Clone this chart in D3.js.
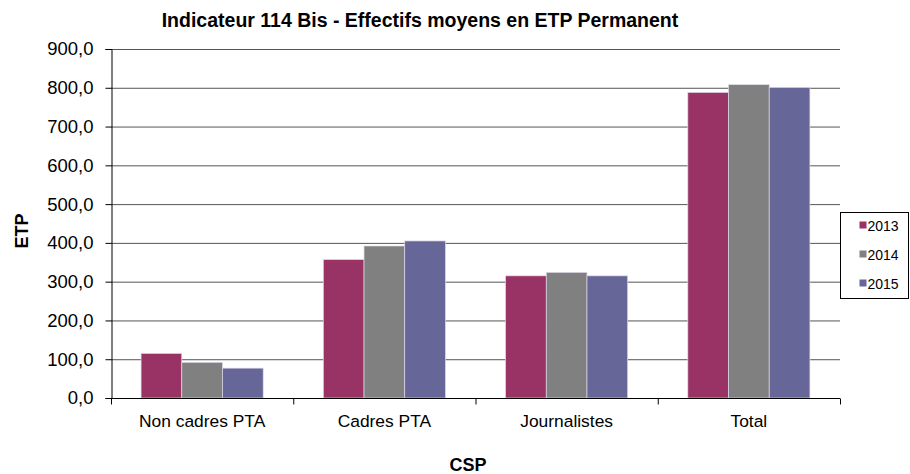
<!DOCTYPE html>
<html>
<head>
<meta charset="utf-8">
<script src="https://cdn.jsdelivr.net/npm/d3@7"></script>
<style>
  body { margin: 0; background: #fff; }
  svg { font-family: "Liberation Sans", Arial, sans-serif; }
</style>
</head>
<body>
<div id="plot"></div>
<script>
// data
const categories = ["Non cadres PTA", "Cadres PTA", "Journalistes", "Total"];
const years = ["2013", "2014", "2015"];
const values2013 = [115, 357, 315, 788];
const values2014 = [92, 392, 324, 808];
const values2015 = [77, 405, 315, 801];
const yTicks = [0, 100, 200, 300, 400, 500, 600, 700, 800, 900];
const colors = ["#993366", "#808080", "#666699"];

const series = [values2013, values2014, values2015];

const width = 910, height = 474;
const margin = { left: 111, right: 70, top: 49, bottom: 76 };

const svg = d3.select("#plot").append("svg")
    .attr("width", width)
    .attr("height", height);

const x = d3.scaleBand()
    .domain(categories)
    .range([margin.left, width - margin.right]);

const xInner = d3.scaleBand()
    .domain(years)
    .range([0, x.bandwidth() * 0.67]);

const y = d3.scaleLinear()
    .domain([0, 900])
    .range([height - margin.bottom, margin.top]);

// gridlines
svg.append("g")
    .selectAll("line")
    .data(yTicks.filter(d => d > 0))
    .join("line")
    .attr("x1", margin.left)
    .attr("x2", width - margin.right)
    .attr("y1", d => y(d) + 0.5)
    .attr("y2", d => y(d) + 0.5)
    .attr("stroke", "#555")
    .attr("stroke-width", 1);

// bars
const offset = (x.bandwidth() - xInner.range()[1]) / 2;
categories.forEach((c, i) => {
    years.forEach((yr, j) => {
        svg.append("rect")
            .attr("x", x(c) + offset + xInner(yr))
            .attr("y", y(series[j][i]))
            .attr("width", xInner.bandwidth())
            .attr("height", y(0) - y(series[j][i]))
            .attr("fill", colors[j])
            .attr("stroke", "#e0d8e8")
            .attr("stroke-width", 0.7);
    });
});

// y axis
const yAxis = svg.append("g")
    .attr("transform", `translate(${margin.left + 0.5},0)`)
    .call(d3.axisLeft(y).tickValues(yTicks).tickSize(6).tickPadding(12)
        .tickFormat(d => d3.format(".1f")(d).replace(".", ",")));
yAxis.select(".domain").attr("stroke", "#000");
yAxis.selectAll(".tick line").attr("stroke", "#000");
yAxis.selectAll("text")
    .attr("font-size", 18.5)
    .attr("fill", "#000")
    .attr("font-family", "Liberation Sans, Arial, sans-serif");

// x axis
const xAxis = svg.append("g")
    .attr("transform", `translate(0,${y(0) + 0.5})`);
xAxis.append("line")
    .attr("x1", margin.left)
    .attr("x2", width - margin.right)
    .attr("stroke", "#000");
xAxis.selectAll("line.tk")
    .data(categories.concat(["end"]))
    .join("line")
    .attr("class", "tk")
    .attr("x1", (d, i) => (i < categories.length ? x(d) : x.range()[1]) + 0.5)
    .attr("x2", (d, i) => (i < categories.length ? x(d) : x.range()[1]) + 0.5)
    .attr("y1", 0)
    .attr("y2", 6)
    .attr("stroke", "#000");
xAxis.selectAll("text")
    .data(categories)
    .join("text")
    .attr("x", d => x(d) + x.bandwidth() / 2)
    .attr("y", 28)
    .attr("text-anchor", "middle")
    .attr("font-size", 17.4)
    .text(d => d);

// title and axis titles
svg.append("text")
    .attr("x", 420)
    .attr("y", 27)
    .attr("text-anchor", "middle")
    .attr("font-size", 19.5)
    .attr("font-weight", "bold")
    .text("Indicateur 114 Bis - Effectifs moyens en ETP Permanent");

svg.append("text")
    .attr("x", 468)
    .attr("y", 471)
    .attr("text-anchor", "middle")
    .attr("font-size", 18)
    .attr("font-weight", "bold")
    .text("CSP");

svg.append("text")
    .attr("transform", `translate(28,231) rotate(-90)`)
    .attr("text-anchor", "middle")
    .attr("font-size", 18)
    .attr("font-weight", "bold")
    .text("ETP");

// legend
const legend = svg.append("g").attr("transform", "translate(840.5,212.5)");
legend.append("rect")
    .attr("width", 68)
    .attr("height", 86)
    .attr("fill", "#fff")
    .attr("stroke", "#000");
years.forEach((yr, j) => {
    const g = legend.append("g").attr("transform", `translate(19,${18 + j * 29})`);
    g.append("rect")
        .attr("x", 0)
        .attr("y", -9)
        .attr("width", 7)
        .attr("height", 7)
        .attr("fill", colors[j]);
    g.append("text")
        .attr("x", 8)
        .attr("y", 0)
        .attr("font-size", 14)
        .text(yr);
});
</script>
</body>
</html>
